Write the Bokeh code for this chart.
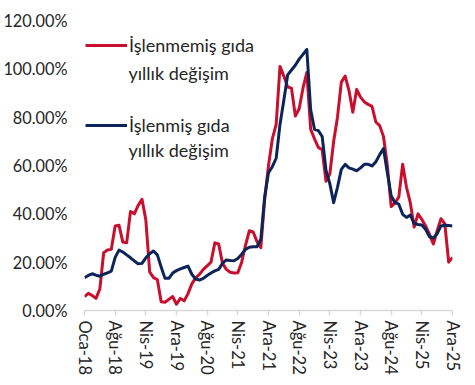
from bokeh.plotting import figure
from bokeh.models import Range1d, FixedTicker, PrintfTickFormatter, Legend, LegendItem, Label
from bokeh.embed import file_html
from bokeh.resources import INLINE

# ---- data -------------------------------------------------------------
tick_labels = ["Oca-18", "Ağu-18", "Nis-19", "Ara-19", "Ağu-20", "Nis-21", "Ara-21",
               "Ağu-22", "Nis-23", "Ara-23", "Ağu-24", "Nis-25", "Ara-25"]

islenmemis = [5.7, 7.1, 6.2, 5.0, 8.9, 23.9, 25.0, 25.3, 35.0, 35.3,
              28.3, 28.0, 41.0, 40.0, 43.5, 46.0, 37.5, 16.0, 13.6, 12.8,
              3.6, 3.4, 4.6, 5.8, 2.6, 5.0, 4.0, 7.0, 11.0, 13.5,
              15.0, 17.0, 18.5, 20.0, 28.0, 27.5, 19.5, 17.0, 15.8, 15.5,
              15.6, 20.0, 27.0, 33.0, 32.5, 28.5, 26.0, 46.0, 60.0, 71.0,
              77.0, 101.0, 97.0, 92.5, 92.0, 80.5, 83.5, 92.0, 98.5, 75.0,
              71.0, 67.5, 66.5, 53.5, 56.5, 70.0, 80.0, 94.5, 97.0, 91.0,
              82.0, 91.5, 88.3, 86.3, 85.3, 84.5, 78.0, 76.5, 72.0, 60.0,
              43.0, 44.5, 47.0, 60.5, 51.0, 44.5, 34.5, 40.0, 37.7, 35.0,
              31.5, 27.5, 33.0, 38.0, 35.8, 20.0, 22.0]

islenmis = [13.6, 14.5, 15.2, 14.6, 14.2, 15.0, 15.6, 16.3, 22.0, 25.0,
            24.2, 23.0, 21.8, 20.5, 19.3, 19.5, 21.8, 23.5, 24.6, 23.0,
            18.0, 13.3, 13.3, 15.5, 16.5, 17.2, 17.8, 18.4, 15.0, 13.0,
            12.6, 13.3, 14.5, 15.5, 16.4, 17.0, 19.5, 20.9, 20.7, 20.6,
            21.5, 23.3, 25.3, 26.2, 26.4, 26.4, 29.5, 47.0, 57.0, 59.5,
            63.0, 77.0, 87.0, 97.5, 99.5, 101.5, 104.0, 106.0, 108.0, 83.0,
            75.0, 74.4, 72.0, 58.0, 52.5, 44.6, 51.0, 58.4, 60.5, 59.0,
            58.5, 57.8, 59.0, 60.5, 60.5, 59.8, 61.5, 64.5, 67.0, 57.0,
            47.5, 44.6, 44.0, 39.8, 38.5, 39.5, 36.0, 35.6, 35.4, 33.5,
            30.5, 30.0, 31.8, 35.0, 35.3, 35.2, 35.0]

series_names = ["İşlenmemiş gıda", "İşlenmiş gıda"]
second_line = "yıllık değişim"
y_ticks = [0, 20, 40, 60, 80, 100, 120]

months = list(range(len(islenmemis)))
tick_step = 8
x_ticks = list(range(0, len(months), tick_step))

RED = "#C8102E"
NAVY = "#0B2559"
TXT = "#262626"
FONT = "Lato"

p = figure(frame_width=368, frame_height=290,
           min_border_left=81, min_border_right=10, min_border_top=20, min_border_bottom=60,
           x_range=Range1d(0, months[-1]), y_range=Range1d(0, 120),
           output_backend="svg", toolbar_location=None)
p.outline_line_color = None
p.xgrid.visible = False
p.ygrid.visible = False
p.background_fill_color = "white"
p.border_fill_color = "white"

r1 = p.line(months, islenmemis, line_color=RED, line_width=3, line_join="round")
r2 = p.line(months, islenmis, line_color=NAVY, line_width=3, line_join="round")

xa = p.xaxis[0]
xa.ticker = FixedTicker(ticks=x_ticks)
xa.major_label_overrides = {t: lab for t, lab in zip(x_ticks, tick_labels)}
xa.major_label_orientation = "vertical"
xa.axis_line_color = "#D9D9D9"
xa.axis_line_width = 1.5
xa.major_tick_line_color = "#D9D9D9"
xa.major_tick_line_width = 1.5
xa.major_tick_out = 5
xa.major_tick_in = 0
xa.minor_tick_line_color = None
xa.major_label_standoff = 5
xa.major_label_text_font = FONT
xa.major_label_text_font_size = "16.5px"
xa.major_label_text_color = TXT

ya = p.yaxis[0]
ya.ticker = FixedTicker(ticks=y_ticks)
ya.formatter = PrintfTickFormatter(format="%.2f%%")
ya.axis_line_color = None
ya.major_tick_line_color = None
ya.minor_tick_line_color = None
ya.major_tick_out = 0
ya.major_tick_in = 0
ya.major_label_standoff = 17
ya.major_label_text_font = FONT
ya.major_label_text_font_size = "16.3px"
ya.major_label_text_color = TXT

legend = Legend(items=[LegendItem(label=series_names[0], renderers=[r1]),
                       LegendItem(label=series_names[1], renderers=[r2])],
                location=(1, 174), orientation="vertical",
                glyph_width=42, glyph_height=20, label_height=20, spacing=58,
                padding=0, margin=0, label_standoff=2,
                border_line_color=None, background_fill_alpha=0,
                label_text_font=FONT, label_text_font_size="18px",
                label_text_color=TXT)
p.add_layout(legend)

for yy in (238, 161):
    p.add_layout(Label(x=44, y=yy, x_units="screen", y_units="screen", text=second_line,
                       text_baseline="middle", text_align="left", text_font=FONT,
                       text_font_size="18px", text_color=TXT))

open("out.html", "w").write(file_html(p, INLINE))
